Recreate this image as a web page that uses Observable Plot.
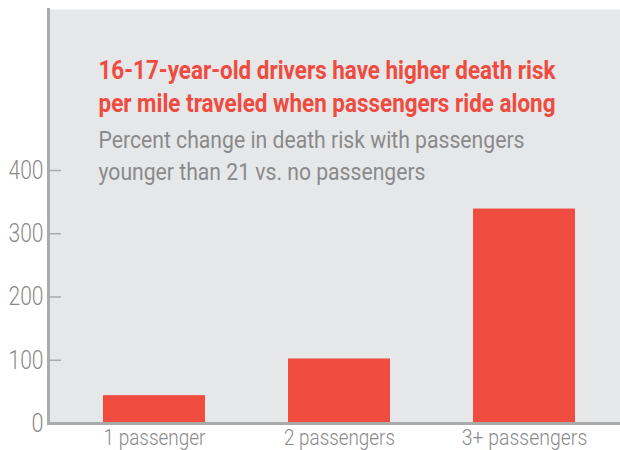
<!DOCTYPE html>
<html>
<head>
<meta charset="utf-8">
<script src="https://cdn.jsdelivr.net/npm/d3@7"></script>
<script src="https://cdn.jsdelivr.net/npm/@observablehq/plot@0.6"></script>
<style>
  html, body { margin: 0; padding: 0; background: #fff; }
  svg { display: block; }
</style>
</head>
<body>
<div id="chart"></div>
<script>
const categories = ["1 passenger", "2 passengers", "3+ passengers"];
const values = [44, 102, 339];
const yTicks = [0, 100, 200, 300, 400];
const titleLines = ["16-17-year-old drivers have higher death risk", "per mile traveled when passengers ride along"];
const subtitleLines = ["Percent change in death risk with passengers", "younger than 21 vs. no passengers"];

// target rendered widths (styling, to mimic the condensed typeface)
const textWidths = new Map([
  [titleLines[0], 457], [titleLines[1], 457],
  [subtitleLines[0], 426], [subtitleLines[1], 327],
  ["1 passenger", 102], ["2 passengers", 111], ["3+ passengers", 125.5],
  ["400", 35], ["300", 35], ["200", 35], ["100", 35], ["0", 12]
]);

const data = categories.map((c, i) => ({category: c, value: values[i]}));
const FONT = "Roboto, 'Noto Sans', sans-serif";
const RED = "#ef4b3f";
const GRAY = "#8a8a8a";

const chart = Plot.plot({
  width: 620,
  height: 450,
  marginLeft: 48,
  marginRight: 0,
  marginTop: 9,
  marginBottom: 27,
  style: {fontFamily: FONT, background: "#fff", overflow: "visible"},
  x: {type: "band", domain: categories, range: [18.3, 659.7], padding: 0.45},
  y: {domain: [0, 654.5]},
  marks: [
    Plot.frame({fill: "#e6e7e9", stroke: null}),
    Plot.barY(data, {x: "category", y: "value", fill: RED}),
    Plot.ruleY(yTicks.filter(d => d > 0), {insetRight: 559, stroke: "#aaaaaa", strokeWidth: 1.5}),
    Plot.frame({anchor: "left", stroke: "#aaaaaa", strokeWidth: 3}),
    Plot.frame({anchor: "bottom", stroke: "#aaaaaa", strokeWidth: 3}),
    Plot.axisY({ticks: yTicks, tickSize: 0, tickPadding: 5, fontSize: 26, fontWeight: 300, color: GRAY, label: null, fontFamily: FONT}),
    Plot.axisX({tickSize: 0, tickPadding: 5.5, fontSize: 22.5, fontWeight: 300, color: GRAY, label: null, fontFamily: FONT}),
    Plot.text([titleLines[0]], {frameAnchor: "top-left", dx: 50, dy: 51.7, lineAnchor: "top", textAnchor: "start",
      fontSize: 25, fontWeight: "bold", fill: RED, fontFamily: FONT}),
    Plot.text([titleLines[1]], {frameAnchor: "top-left", dx: 50, dy: 85, lineAnchor: "top", textAnchor: "start",
      fontSize: 25, fontWeight: "bold", fill: RED, fontFamily: FONT}),
    Plot.text([subtitleLines[0]], {frameAnchor: "top-left", dx: 50, dy: 121.7, lineAnchor: "top", textAnchor: "start",
      fontSize: 23.4, fontWeight: 400, fill: GRAY, fontFamily: FONT}),
    Plot.text([subtitleLines[1]], {frameAnchor: "top-left", dx: 50, dy: 154.3, lineAnchor: "top", textAnchor: "start",
      fontSize: 23.4, fontWeight: 400, fill: GRAY, fontFamily: FONT})
  ]
});
document.getElementById("chart").appendChild(chart);

// condense text horizontally to the reference widths
d3.select(chart).selectAll("text").each(function() {
  const t = this.textContent;
  if (textWidths.has(t) && this.childElementCount === 0) {
    this.setAttribute("textLength", textWidths.get(t));
    this.setAttribute("lengthAdjust", "spacingAndGlyphs");
  }
});
</script>
</body>
</html>
